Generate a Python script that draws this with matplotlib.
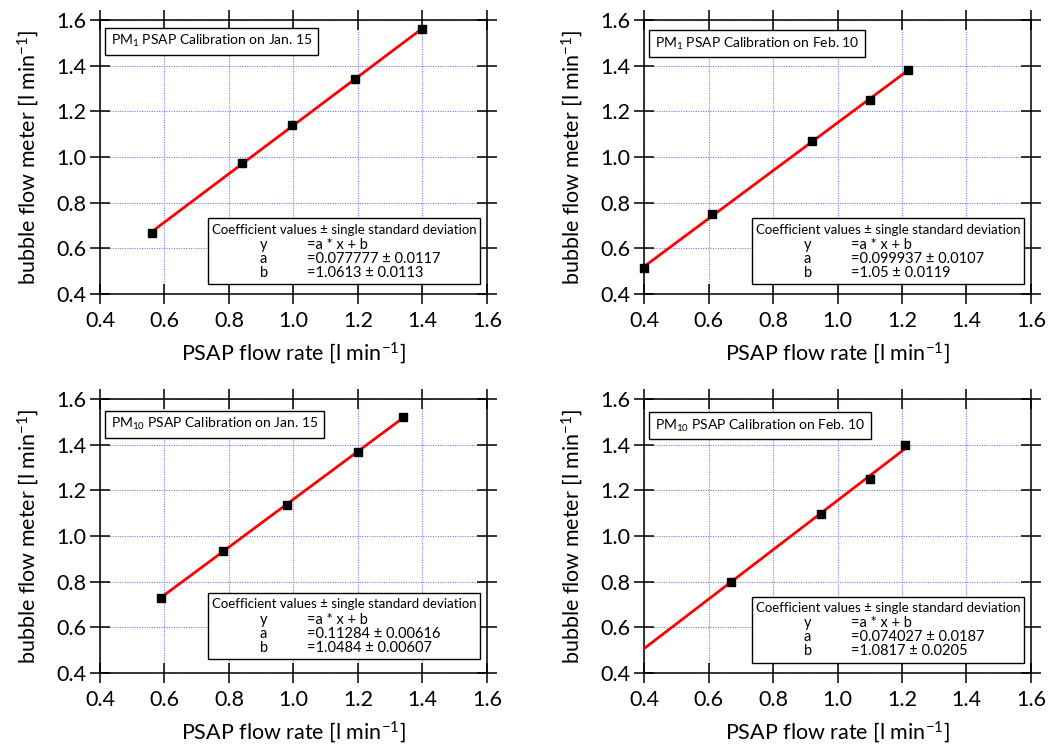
import numpy as np
import matplotlib
matplotlib.use("Agg")
import matplotlib.pyplot as plt
from matplotlib.patches import Rectangle

plt.rcParams['font.family'] = ['Lato', 'DejaVu Sans']
plt.rcParams['mathtext.default'] = 'regular'

# PSAP flow (x) vs bubble flow meter (y) for each calibration
titles = [r'PM$_1$ PSAP Calibration on Jan. 15',
          r'PM$_1$ PSAP Calibration on Feb. 10',
          r'PM$_{10}$ PSAP Calibration on Jan. 15',
          r'PM$_{10}$ PSAP Calibration on Feb. 10']
psap_x = [[0.56, 0.84, 0.995, 1.19, 1.40],
          [0.40, 0.61, 0.92, 1.10, 1.22],
          [0.59, 0.78, 0.98, 1.20, 1.34],
          [0.67, 0.95, 1.10, 1.21]]
bubble_y = [[0.665, 0.975, 1.14, 1.34, 1.56],
            [0.515, 0.75, 1.07, 1.25, 1.38],
            [0.73, 0.935, 1.135, 1.37, 1.52],
            [0.80, 1.095, 1.25, 1.40]]

# fit coefficients as reported (a = offset, b = slope)
coef_a = ['0.077777', '0.099937', '0.11284', '0.074027']
sig_a = ['0.0117', '0.0107', '0.00616', '0.0187']
coef_b = ['1.0613', '1.05', '1.0484', '1.0817']
sig_b = ['0.0113', '0.0119', '0.00607', '0.0205']
fit_start = [0.56, 0.40, 0.59, 0.40]
fit_end = [1.40, 1.22, 1.34, 1.21]

ticks = [0.4, 0.6, 0.8, 1.0, 1.2, 1.4, 1.6]

fig = plt.figure(figsize=(10.5, 7.44), dpi=100)
w, h = 387 / 1050, 274 / 744
positions = [(100 / 1050, 1 - 294 / 744), (644 / 1050, 1 - 294 / 744),
             (100 / 1050, 1 - 673 / 744), (644 / 1050, 1 - 673 / 744)]
box_bottom = [0.036, 0.036, 0.052, 0.038]
title_top = [0.964, 0.955, 0.950, 0.944]

for i in range(4):
    ax = fig.add_axes([positions[i][0], positions[i][1], w, h])
    ax.set_xlim(0.4, 1.6)
    ax.set_ylim(0.4, 1.6)
    ax.set_xticks(ticks)
    ax.set_yticks(ticks)
    ax.set_xticklabels(['%.1f' % t for t in ticks])
    ax.set_yticklabels(['%.1f' % t for t in ticks])
    ax.grid(True, color='#7878ff', linestyle=(0, (1, 1.2)), linewidth=0.8)
    ax.set_axisbelow(True)
    for sp in ax.spines.values():
        sp.set_linewidth(1.1)
    ax.tick_params(direction='inout', length=14, width=1.1, top=True, right=True,
                   labelsize=15.5, pad=3)
    ax.tick_params(axis='x', pad=5)

    a = float(coef_a[i])
    b = float(coef_b[i])
    xf = np.array([fit_start[i], fit_end[i]])
    ax.plot(xf, a + b * xf, color='#ff0000', linewidth=2.0, zorder=3)
    ax.plot(psap_x[i], bubble_y[i], 's', color='black', markersize=6.3, zorder=4,
            clip_on=False)

    ax.set_xlabel(r'PSAP flow rate [l min$^{-1}$]', fontsize=15.5, labelpad=7)
    ax.set_ylabel(r'bubble flow meter [l min$^{-1}$]', fontsize=15.5, labelpad=11)

    ax.text(0.028, title_top[i] - 0.042, titles[i], transform=ax.transAxes,
            fontsize=10, ha='left', va='center', zorder=6,
            bbox=dict(boxstyle='square,pad=0.4', facecolor='white',
                      edgecolor='black', linewidth=1.0))

    y0 = box_bottom[i]
    ax.add_patch(Rectangle((0.279, y0), 0.703, 0.241, transform=ax.transAxes,
                           facecolor='white', edgecolor='black', linewidth=1.0,
                           zorder=5))
    ax.text(0.289, y0 + 0.198, u'Coefficient values \u00b1 single standard deviation',
            transform=ax.transAxes, fontsize=9.5, ha='left', va='center', zorder=6)
    rows = [('y', '=a * x + b'),
            ('a', u'=%s \u00b1 %s' % (coef_a[i], sig_a[i])),
            ('b', u'=%s \u00b1 %s' % (coef_b[i], sig_b[i]))]
    for k, (name, val) in enumerate(rows):
        yy = y0 + 0.143 - 0.051 * k
        ax.text(0.413, yy, name, transform=ax.transAxes, fontsize=10.5,
                ha='left', va='center', zorder=6)
        ax.text(0.535, yy, val, transform=ax.transAxes, fontsize=10.5,
                ha='left', va='center', zorder=6)

fig.savefig('out.png', dpi=100)
